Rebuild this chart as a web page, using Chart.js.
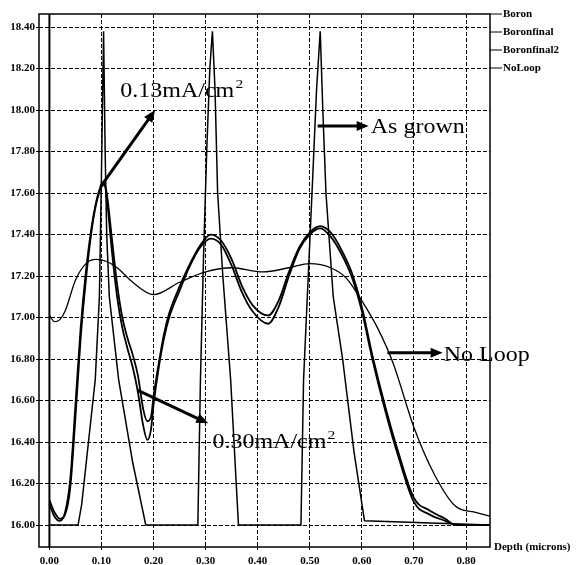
<!DOCTYPE html>
<html>
<head>
<meta charset="utf-8">
<script src="https://cdn.jsdelivr.net/npm/chart.js@4.4.0/dist/chart.umd.min.js"></script>
<style>
  html, body { margin: 0; padding: 0; background: #fff; }
  #wrap { width: 579px; height: 565px; }
</style>
</head>
<body>
<div id="wrap"><canvas id="chartBoro" width="579" height="565"></canvas></div>
<script>
// ============= DADOS =============
const xTicks = [0.0, 0.1, 0.2, 0.3, 0.4, 0.5, 0.6, 0.7, 0.8];
const yTicks = [16.0, 16.2, 16.4, 16.6, 16.8, 17.0, 17.2, 17.4, 17.6, 17.8, 18.0, 18.2, 18.4];

const seriesNames = ['Boron', 'Boronfinal', 'Boronfinal2', 'NoLoop'];

// Boron (as grown) - picos estreitos
const boronDepth = [0.00, 0.055, 0.062, 0.075, 0.088, 0.096, 0.100, 0.104, 0.107, 0.110, 0.115, 0.133, 0.160, 0.185,
                    0.285, 0.290, 0.296, 0.302, 0.308, 0.313, 0.318, 0.323, 0.333, 0.348, 0.363,
                    0.483, 0.488, 0.497, 0.506, 0.513, 0.520, 0.525, 0.531, 0.545, 0.563, 0.585, 0.605, 0.85];
const boronConc  = [16.00, 16.00, 16.10, 16.40, 16.70, 17.10, 17.70, 18.38, 17.80, 17.40, 17.10, 16.70, 16.30, 16.00,
                    16.00, 16.70, 17.30, 17.80, 18.20, 18.38, 18.10, 17.60, 17.20, 16.70, 16.00,
                    16.00, 16.70, 17.20, 17.70, 18.10, 18.38, 18.00, 17.60, 17.10, 16.80, 16.35, 16.02, 16.00];

// Boronfinal / Boronfinal2 (mesma malha de profundidade)
const finalDepth = [0.00, 0.01, 0.02, 0.03, 0.04, 0.05, 0.06, 0.07, 0.08, 0.09, 0.10, 0.105, 0.11, 0.12, 0.13, 0.14,
                    0.15, 0.16, 0.17, 0.18, 0.188, 0.195, 0.20, 0.21, 0.22, 0.23, 0.25, 0.27, 0.29, 0.31, 0.33,
                    0.35, 0.37, 0.39, 0.42, 0.44, 0.46, 0.48, 0.50, 0.52, 0.54, 0.56, 0.58, 0.60, 0.62, 0.645,
                    0.67, 0.70, 0.73, 0.76, 0.78, 0.85];
const final1Conc = [16.10, 16.04, 16.02, 16.06, 16.22, 16.58, 16.95, 17.22, 17.42, 17.56, 17.64, 17.65, 17.58, 17.32, 17.10, 16.95,
                    16.85, 16.76, 16.64, 16.48, 16.41, 16.46, 16.58, 16.76, 16.90, 17.00, 17.13, 17.25, 17.34, 17.38, 17.35,
                    17.25, 17.12, 17.03, 16.97, 17.05, 17.20, 17.33, 17.40, 17.43, 17.39, 17.31, 17.20, 17.03, 16.80, 16.55,
                    16.33, 16.11, 16.05, 16.02, 16.00, 16.00];
const final2Conc = [16.12, 16.06, 16.03, 16.05, 16.18, 16.52, 16.90, 17.18, 17.40, 17.55, 17.63, 17.64, 17.60, 17.38, 17.16, 17.00,
                    16.90, 16.82, 16.72, 16.56, 16.50, 16.52, 16.62, 16.78, 16.92, 17.02, 17.15, 17.26, 17.35, 17.40, 17.37,
                    17.28, 17.15, 17.06, 17.01, 17.08, 17.22, 17.34, 17.41, 17.44, 17.41, 17.33, 17.22, 17.05, 16.82, 16.57,
                    16.35, 16.13, 16.07, 16.03, 16.00, 16.00];

// NoLoop
const noLoopDepth = [0.00, 0.01, 0.02, 0.03, 0.05, 0.07, 0.09, 0.11, 0.13, 0.16, 0.20, 0.25, 0.30, 0.35,
                     0.41, 0.46, 0.50, 0.54, 0.57, 0.60, 0.63, 0.66, 0.70, 0.74, 0.78, 0.82, 0.85];
const noLoopConc  = [17.01, 16.98, 16.99, 17.03, 17.18, 17.26, 17.28, 17.27, 17.24, 17.17, 17.11, 17.17, 17.22, 17.24,
                     17.22, 17.24, 17.26, 17.24, 17.19, 17.08, 16.95, 16.78, 16.47, 16.24, 16.09, 16.06, 16.04];

// anotações (coordenadas em unidades dos eixos)
const notes = [
    { text: '0.13mA/cm', sup: '2', tx: 0.136, ty: 18.063, from: [0.098, 17.63], to: [0.203, 18.00] },
    { text: 'As grown',  sup: '',  tx: 0.617, ty: 17.890, from: [0.515, 17.923], to: [0.613, 17.923] },
    { text: '0.30mA/cm', sup: '2', tx: 0.313, ty: 16.370, from: [0.169, 16.65], to: [0.305, 16.49] },
    { text: 'No Loop',   sup: '',  tx: 0.757, ty: 16.790, from: [0.649, 16.83], to: [0.755, 16.83] }
];

const pares = (xs, ys) => xs.map((v, i) => ({ x: v, y: ys[i] }));

// ============= PLUGIN – moldura, legenda e setas =============
const SERIF = '"Liberation Serif", "Times New Roman", serif';

function seta(ctx, x1, y1, x2, y2) {
    const ang = Math.atan2(y2 - y1, x2 - x1);
    const len = 12, w = 5;
    ctx.lineWidth = 3;
    ctx.beginPath();
    ctx.moveTo(x1, y1);
    ctx.lineTo(x2 - Math.cos(ang) * len * 0.8, y2 - Math.sin(ang) * len * 0.8);
    ctx.stroke();
    ctx.beginPath();
    ctx.moveTo(x2, y2);
    ctx.lineTo(x2 - Math.cos(ang) * len - Math.sin(ang) * w, y2 - Math.sin(ang) * len + Math.cos(ang) * w);
    ctx.lineTo(x2 - Math.cos(ang) * len + Math.sin(ang) * w, y2 - Math.sin(ang) * len - Math.cos(ang) * w);
    ctx.closePath();
    ctx.fill();
}

const extras = {
    id: 'extras',
    afterDraw(chart) {
        const { ctx, chartArea: a, scales: { x, y } } = chart;
        ctx.save();
        ctx.strokeStyle = '#000';
        ctx.fillStyle = '#000';
        ctx.setLineDash([]);

        // moldura
        ctx.lineWidth = 1.5;
        ctx.strokeRect(a.left, a.top, a.right - a.left, a.bottom - a.top);

        // linha do zero (sólida)
        const x0 = x.getPixelForValue(0);
        ctx.lineWidth = 2;
        ctx.beginPath();
        ctx.moveTo(x0, a.top);
        ctx.lineTo(x0, a.bottom);
        ctx.stroke();

        // legenda à direita
        ctx.font = 'bold 11px ' + SERIF;
        ctx.textBaseline = 'middle';
        ctx.textAlign = 'left';
        ctx.lineWidth = 1;
        seriesNames.forEach((nome, i) => {
            const yy = a.top + i * 18;
            ctx.beginPath();
            ctx.moveTo(a.right, yy);
            ctx.lineTo(a.right + 12, yy);
            ctx.stroke();
            ctx.fillText(nome, a.right + 13, yy);
        });

        // título do eixo x
        ctx.font = 'bold 11px ' + SERIF;
        ctx.fillText('Depth (microns)', a.right + 4, a.bottom);

        // anotações
        notes.forEach(n => {
            seta(ctx, x.getPixelForValue(n.from[0]), y.getPixelForValue(n.from[1]),
                      x.getPixelForValue(n.to[0]), y.getPixelForValue(n.to[1]));
            const px = x.getPixelForValue(n.tx), py = y.getPixelForValue(n.ty);
            ctx.save();
            ctx.translate(px, py);
            ctx.scale(1.2, 1);
            ctx.textBaseline = 'alphabetic';
            ctx.font = '20px ' + SERIF;
            ctx.fillText(n.text, 0, 0);
            if (n.sup) {
                const w = ctx.measureText(n.text).width;
                ctx.font = '13px ' + SERIF;
                ctx.fillText(n.sup, w + 1, -9);
            }
            ctx.restore();
        });

        ctx.restore();
    }
};

// ============= GRÁFICO =============
const ctxBoro = document.getElementById('chartBoro');

const linha = (dados, largura, suave) => ({
    data: dados,
    borderColor: '#000',
    borderWidth: largura,
    pointRadius: 0,
    fill: false,
    tension: 0,
    cubicInterpolationMode: suave ? 'monotone' : 'default'
});

new Chart(ctxBoro, {
    type: 'line',
    data: {
        datasets: [
            { label: seriesNames[0], ...linha(pares(boronDepth, boronConc), 1.5, false) },
            { label: seriesNames[1], ...linha(pares(finalDepth, final1Conc), 1.8, true) },
            { label: seriesNames[2], ...linha(pares(finalDepth, final2Conc), 1.8, true) },
            { label: seriesNames[3], ...linha(pares(noLoopDepth, noLoopConc), 1.3, true) }
        ]
    },
    options: {
        responsive: false,
        animation: false,
        layout: { padding: { left: 0, top: 14, right: 89, bottom: 0 } },
        plugins: {
            legend: { display: false },
            tooltip: { enabled: false }
        },
        scales: {
            x: {
                type: 'linear',
                min: -0.02,
                max: 0.846,
                afterBuildTicks: s => { s.ticks = xTicks.map(v => ({ value: v })); },
                afterFit: s => { s.height = 18; },
                grid: { color: '#000', lineWidth: 1, tickLength: 3, drawOnChartArea: true },
                border: { display: false, dash: [4, 2] },
                ticks: {
                    color: '#000',
                    padding: 5,
                    maxRotation: 0,
                    autoSkip: false,
                    font: { family: SERIF, size: 11, weight: 'bold' },
                    callback: v => v.toFixed(2)
                }
            },
            y: {
                min: 15.894,
                max: 18.463,
                afterBuildTicks: s => { s.ticks = yTicks.map(v => ({ value: v })); },
                afterFit: s => { s.width = 39; },
                grid: { color: '#000', lineWidth: 1, tickLength: 3 },
                border: { display: false, dash: [4, 2] },
                ticks: {
                    color: '#000',
                    padding: 1,
                    autoSkip: false,
                    font: { family: SERIF, size: 11, weight: 'bold' },
                    callback: v => v.toFixed(2)
                }
            }
        }
    },
    plugins: [extras]
});
</script>
</body>
</html>
